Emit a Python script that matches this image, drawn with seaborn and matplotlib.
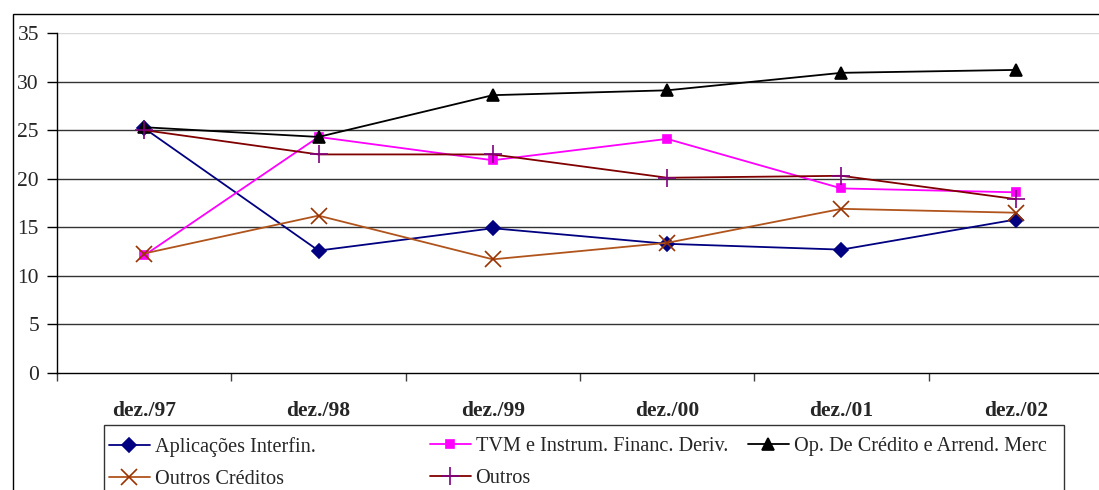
import pandas as pd
import seaborn as sns
import matplotlib.pyplot as plt
from matplotlib.patches import Rectangle
from matplotlib.ticker import FixedLocator

# data
periodos = ["dez./97", "dez./98", "dez./99", "dez./00", "dez./01", "dez./02"]
aplicacoes = [25.2, 12.6, 14.9, 13.3, 12.7, 15.8]
tvm = [12.1, 24.3, 21.9, 24.1, 19.0, 18.6]
op_credito = [25.3, 24.3, 28.6, 29.1, 30.9, 31.2]
outros_creditos = [12.3, 16.2, 11.7, 13.4, 16.9, 16.5]
outros = [25.0, 22.5, 22.5, 20.1, 20.3, 17.9]

series = {
    "Aplicações Interfin.": aplicacoes,
    "TVM e Instrum. Financ. Deriv.": tvm,
    "Op. De Crédito e Arrend. Merc": op_credito,
    "Outros Créditos": outros_creditos,
    "Outros": outros,
}

# line colour, marker, marker size, marker colour
estilos = {
    "Aplicações Interfin.": ("#000080", "D", 7, "#000080"),
    "TVM e Instrum. Financ. Deriv.": ("#FF00FF", "s", 6, "#FF00FF"),
    "Op. De Crédito e Arrend. Merc": ("#000000", "^", 9, "#000000"),
    "Outros Créditos": ("#B0541C", "x", 11, "#993300"),
    "Outros": ("#800000", "+", 13, "#800080"),
}

rows = []
for nome, vals in series.items():
    for i, v in enumerate(vals):
        rows.append({"Serie": nome, "pos": i, "valor": v})
df = pd.DataFrame(rows)

sns.set_style("white")
plt.rcParams["font.family"] = ["Liberation Serif", "DejaVu Serif"]

W, H = 1099, 490
fig = plt.figure(figsize=(W / 100, H / 100), dpi=100)
ax = fig.add_axes([57 / W, 117 / H, 1046 / W, 340 / H])

for nome in series:
    cor, mk, ms, mcor = estilos[nome]
    sns.lineplot(
        data=df[df["Serie"] == nome], x="pos", y="valor", ax=ax,
        color=cor, linewidth=1.3, marker=mk, markersize=ms,
        markerfacecolor=mcor, markeredgecolor=mcor, markeredgewidth=1.2,
        label=nome, errorbar=None,
    )

ax.set_xlim(-0.5, 5.5)
ax.set_ylim(0, 35)
ax.set_yticks(range(0, 36, 5))
ax.set_xticks(range(len(periodos)))
ax.set_xticklabels(periodos, fontweight="bold", fontsize=15.5)
ax.xaxis.set_minor_locator(FixedLocator([i - 0.5 for i in range(len(periodos) + 1)]))
ax.tick_params(axis="x", which="major", length=0, pad=20)
ax.tick_params(axis="x", which="minor", length=6, width=1, color="#404040", direction="out", bottom=True)
ax.tick_params(axis="y", length=7, width=1, color="#000000", direction="out", left=True, labelsize=15.5, pad=6)
ax.set_xlabel("")
ax.set_ylabel("")

for v in range(5, 31, 5):
    ax.axhline(v, color="#333333", linewidth=1, zorder=0)
ax.axhline(35, color="#d9d9d9", linewidth=1, zorder=0)

for s in ["top", "right"]:
    ax.spines[s].set_visible(False)
for s in ["left", "bottom"]:
    ax.spines[s].set_color("black")
    ax.spines[s].set_linewidth(1)

# legend: three frameless columns inside one box, like the Excel layout
handles, labels = ax.get_legend_handles_labels()
ax.get_legend().remove()
colunas = [([0, 3], 109), ([1, 4], 430), ([2], 748)]
for idx, x0 in colunas:
    leg = fig.legend(
        [handles[i] for i in idx], [labels[i] for i in idx],
        loc="upper left", bbox_to_anchor=(x0 / W, 1 - 437 / H),
        frameon=False, fontsize=14.6, handlelength=2.0, handletextpad=0.25,
        labelspacing=0.62, borderpad=0, borderaxespad=0,
    )

fig.patches.append(Rectangle((104 / W, -0.1), (1064 - 104) / W, 0.1 + 1 - 425 / H,
                             transform=fig.transFigure, fill=False,
                             edgecolor="#333333", linewidth=1))

# outer chart border (runs past the right and bottom edges)
fig.patches.append(Rectangle((13 / W, -0.1), 1.1, 1.1 - 14 / H,
                             transform=fig.transFigure, fill=False,
                             edgecolor="black", linewidth=1))

fig.savefig("out.png", dpi=100)
